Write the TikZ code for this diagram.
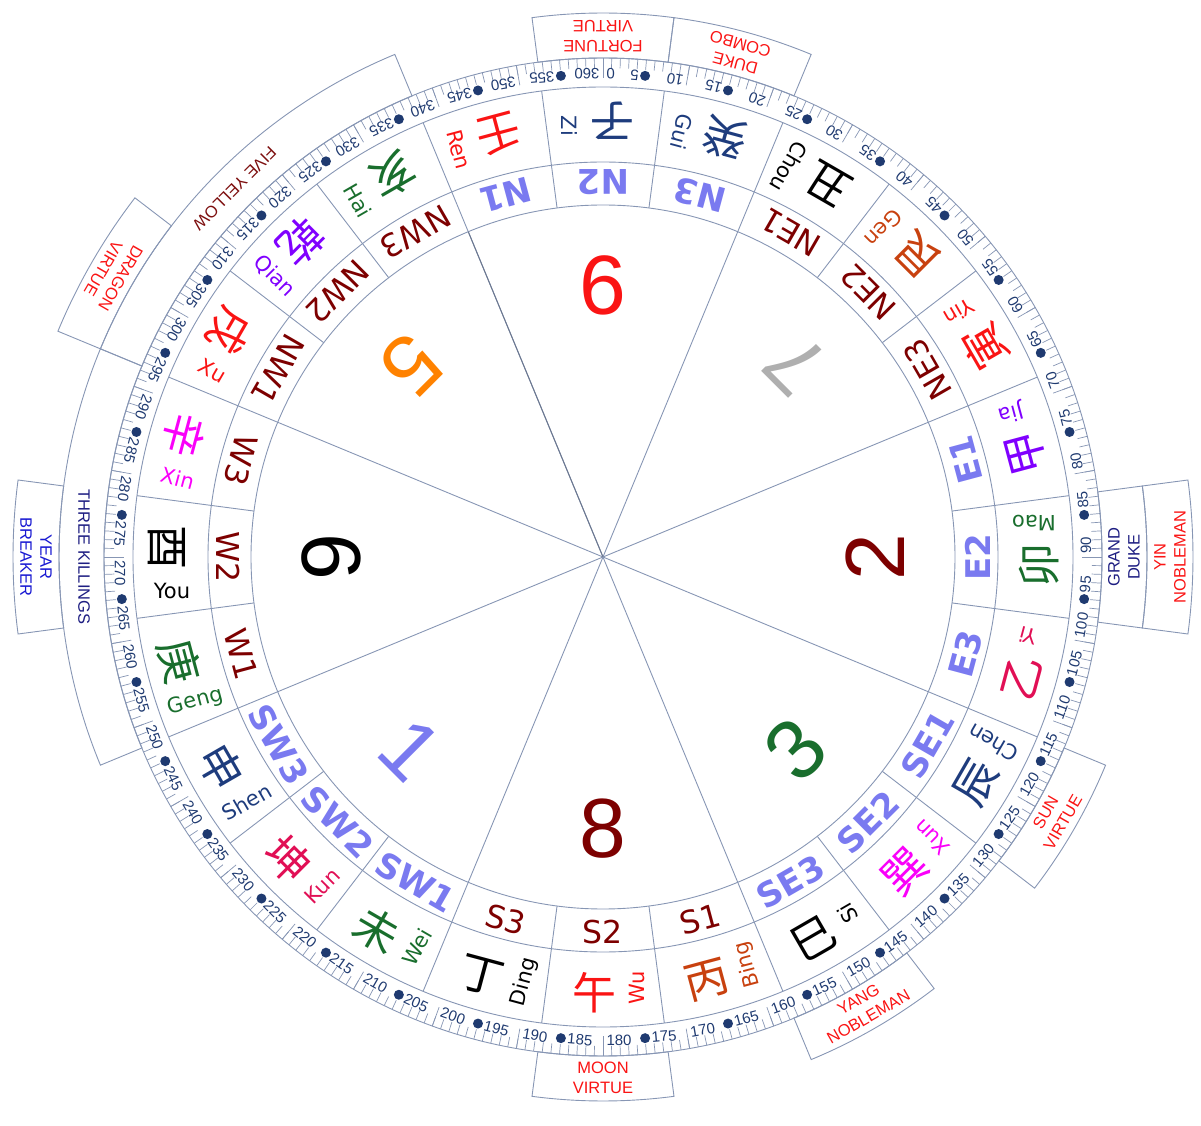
\documentclass[tikz,border=0pt]{standalone}
\usepackage{fontspec}
\setmainfont{Liberation Sans}
\newfontfamily\cjk{Noto Sans CJK SC}
\newfontfamily\vfont{DejaVu Sans}
\definecolor{lncol}{RGB}{135,150,180}
\definecolor{navy}{RGB}{31,58,112}
\definecolor{cnavy}{RGB}{30,60,125}
\definecolor{cred}{RGB}{250,20,20}
\definecolor{corange}{RGB}{200,65,15}
\definecolor{cpurple}{RGB}{128,0,255}
\definecolor{cgreen}{RGB}{25,110,45}
\definecolor{ccrimson}{RGB}{225,15,85}
\definecolor{cmag}{RGB}{250,0,250}
\definecolor{lblue}{RGB}{122,122,240}
\definecolor{dred}{RGB}{125,0,0}
\definecolor{cgray}{RGB}{175,175,175}
\definecolor{corangeb}{RGB}{255,130,0}
\definecolor{kblue}{RGB}{30,30,130}
\definecolor{yblue}{RGB}{25,25,210}
\definecolor{fyred}{RGB}{125,15,15}
\newcommand\annbox[4]{\draw[lnst] ({90-#1}:#3) arc[start angle={90-#1}, end angle={90-#2}, radius=#3] -- ({90-#2}:#4) arc[start angle={90-#2}, end angle={90-#1}, radius=#4] -- cycle;}
\begin{document}
\begin{tikzpicture}[x=1pt,y=1pt,
  lnst/.style={draw=lncol, line width=0.9pt},
  tickst/.style={draw=lncol, line width=0.7pt},
  chstyle/.style={font=\cjk\fontsize{44}{44}\selectfont, inner sep=0},
  pystyle/.style={font=\vfont\fontsize{21}{21}\selectfont, inner sep=0},
  ringA/.style={font=\vfont\bfseries\fontsize{34}{34}\selectfont, text=lblue, inner sep=0},
  ringB/.style={font=\vfont\fontsize{31.5}{31.5}\selectfont, text=dred, inner sep=0},
  bignum/.style={font=\fontsize{84}{84}\selectfont, inner sep=0},
  ticklab/.style={font=\fontsize{15}{15}\selectfont, text=navy, inner sep=0},
  dotst/.style={circle, fill=navy, inner sep=0, minimum size=10pt},
  boxtxt/.style={font=\fontsize{16.5}{20}\selectfont, align=center, inner sep=0}]
\useasboundingbox (-603,-569) rectangle (598,557);
\coordinate (O) at (0,0);
% circles
\foreach \r in {352,395,470,499} \draw[lnst] (O) circle (\r);
% sector lines
\foreach \t in {22.5,67.5,...,337.5} \draw[lnst] (O) -- ({90-\t}:470);
\draw[draw=lncol!80!black, line width=1pt] (O) -- ({90-337.5}:352);
\foreach \t in {7.5,37.5,52.5,82.5,97.5,127.5,142.5,172.5,187.5,217.5,232.5,262.5,277.5,307.5,322.5,352.5}
  \draw[lnst] ({90-\t}:352) -- ({90-\t}:470);
% ticks
\foreach \t in {1,...,360} \draw[tickst] ({90-\t}:489) -- ({90-\t}:499);
\foreach \t in {10,20,...,360} \draw[tickst] ({90-\t}:479) -- ({90-\t}:499);
\foreach \t in {10,20,...,360}
  \node[ticklab, anchor=west, rotate={180-\t}] (tl\t) at ({90-\t+0.4}:483) {\t};
\foreach \t in {5,15,...,355} {
  \node[dotst] (dt\t) at ({90-\t}:483) {};
  \node[ticklab, anchor=west, rotate={180-\t}] (tl\t) at ({90-\t+0.75}:483) {\t};
}
\node[ticklab, anchor=east, rotate=180] (tlzero) at ({90-0.4}:483) {0};
% big numbers
\foreach \t/\n/\cl in {0/9/cred, 45/7/cgray, 90/2/dred, 135/3/cgreen, 180/8/dred, 225/1/lblue, 270/6/black, 315/5/corangeb}
  \node[bignum, text=\cl, rotate={180-\t}] (num\t) at ({90-\t}:272) {\n};
% ring labels
\foreach \t/\l in {345/N1, 0/N2, 15/N3, 75/E1, 90/E2, 105/E3, 120/SE1, 135/SE2, 150/SE3, 210/SW1, 225/SW2, 240/SW3}
  \node[ringA, rotate={180-\t}] (rl\t) at ({90-\t}:375) {\l};
\foreach \t/\l in {30/NE1, 45/NE2, 60/NE3, 165/S1, 180/S2, 195/S3, 255/W1, 270/W2, 285/W3, 300/NW1, 315/NW2, 330/NW3}
  \node[ringB, rotate={180-\t}] (rl\t) at ({90-\t}:375) {\l};
% mountains
\foreach \t/\ch/\py/\cl in {345/壬/Ren/cred, 0/子/Zi/cnavy, 15/癸/Gui/cnavy, 30/丑/Chou/black, 45/艮/Gen/corange, 60/寅/Yin/cred, 75/甲/Jia/cpurple, 90/卯/Mao/cgreen, 105/乙/Yi/ccrimson, 120/辰/Chen/cnavy, 135/巽/Xun/cmag, 150/巳/Si/black, 165/丙/Bing/corange, 180/午/Wu/cred, 195/丁/Ding/black, 210/未/Wei/cgreen, 225/坤/Kun/ccrimson, 240/申/Shen/cnavy, 255/庚/Geng/cgreen, 270/酉/You/black, 285/辛/Xin/cmag, 300/戌/Xu/cred, 315/乾/Qian/cpurple, 330/亥/Hai/cgreen}
{
  \pgfmathsetmacro\ph{90-\t}
  \node[chstyle, text=\cl, rotate={180-\t}] (ch\t) at ([shift={({\ph-90}:9)}]{\ph}:436) {\ch};
  \node[pystyle, text=\cl, rotate={270-\t}] (py\t) at ([shift={({\ph+90}:34)}]{\ph}:431) {\py};
}
% outer boxes
\annbox{-7.5}{7.5}{499}{544}
\annbox{7.5}{22.5}{499}{544}
\annbox{82.5}{97.5}{499}{544}
\annbox{82.5}{97.5}{544}{590}
\annbox{112.5}{127.5}{499}{544}
\annbox{142.5}{157.5}{499}{544}
\annbox{172.5}{187.5}{499}{544}
\annbox{247.5}{292.5}{499}{544}
\annbox{262.5}{277.5}{544}{590}
\annbox{292.5}{337.5}{499}{544}
\annbox{292.5}{307.5}{544}{590}
\node[boxtxt, text=cred, rotate=180] (bfv) at (90:521) {FORTUNE\\VIRTUE};
\node[boxtxt, text=cred, rotate=165] (bdc) at (75:521) {DUKE\\COMBO};
\node[boxtxt, text=kblue, rotate=90] (bgd) at (0:521) {GRAND\\DUKE};
\node[boxtxt, text=cred, rotate=90] (byn) at (0:567) {YIN\\NOBLEMAN};
\node[boxtxt, text=cred, rotate=60] (bsv) at (-30:521) {SUN\\VIRTUE};
\node[boxtxt, text=cred, rotate=30] (byg) at (-60:521) {YANG\\NOBLEMAN};
\node[boxtxt, text=cred, rotate=0] (bmv) at (-90:521) {MOON\\VIRTUE};
\node[boxtxt, text=kblue, rotate=-90] (btk) at (180:519) {THREE KILLINGS};
\node[boxtxt, text=yblue, rotate=-90] (byb) at (180:567) {YEAR\\BREAKER};
\node[boxtxt, text=fyred, rotate=-135] (bfy) at (135:521) {FIVE YELLOW};
\node[boxtxt, text=cred, rotate=-120] (bdv) at (150:567) {DRAGON\\VIRTUE};
\end{tikzpicture}
\end{document}
